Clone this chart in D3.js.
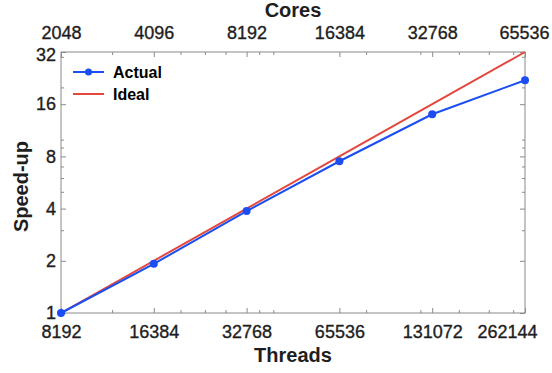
<!DOCTYPE html>
<html>
<head>
<meta charset="utf-8">
<script src="https://cdn.jsdelivr.net/npm/d3@7"></script>
<style>
  body { margin: 0; background: #fff; }
  svg { font-family: "Liberation Sans", Arial, Helvetica, sans-serif; }
</style>
</head>
<body>
<div id="chart"></div>
<script>
// data
const threads = [8192, 16384, 32768, 65536, 131072, 262144];
const cores = [2048, 4096, 8192, 16384, 32768, 65536];
const actual = [1, 1.92, 3.87, 7.5, 14.0, 22.0];
const ideal = [1, 2, 4, 8, 16, 32];
const yTicks = [1, 2, 4, 8, 16, 32];
const threadMinor = [12000, 20000, 24000, 28000, 36000, 40000, 80000, 120000, 160000, 200000, 240000];
const coreMinor = [3000, 5000, 6000, 7000, 9000, 10000, 20000, 30000, 40000, 50000, 60000];
const yMinor = [3, 5, 6, 7, 9, 10, 20, 30];

const W = 552, H = 373;
const margin = {left: 61, right: 27, top: 52, bottom: 60};
const innerW = W - margin.left - margin.right,
      innerH = H - margin.top - margin.bottom;

const axisColor = "#8a8a8a",
      labelColor = "#1e1e1e",
      blue = "#1a4ef2",
      red = "#e2483d";

const svg = d3.select("#chart").append("svg")
    .attr("width", W).attr("height", H);
const g = svg.append("g").attr("transform", `translate(${margin.left},${margin.top})`);

// scales
const x = d3.scaleLog().base(2).domain([8192, 262144]).range([0, innerW]);
const xTop = d3.scaleLog().base(2).domain([2048, 65536]).range([0, innerW]);
const y = d3.scaleLog().base(2).domain([1, 32]).range([innerH, 0]);

// draw one axis with major + minor ticks, ticks pointing inward
function drawAxis(axisFn, scale, major, minor, transform, showLabels) {
    const ax = g.append("g").attr("transform", transform);
    ax.call(axisFn(scale).tickValues(minor).tickSize(-3).tickFormat(""));
    ax.selectAll(".tick text").remove();
    ax.select(".domain").remove();
    const ax2 = g.append("g").attr("transform", transform)
        .call(axisFn(scale).tickValues(major).tickSize(-5).tickPadding(showLabels ? 11 : 0)
              .tickFormat(showLabels ? d3.format("d") : ""));
    ax2.select(".domain").remove();
    [ax, ax2].forEach(a => a.selectAll(".tick line").attr("stroke", axisColor));
    ax2.selectAll(".tick text")
        .attr("fill", labelColor)
        .attr("stroke", labelColor)
        .attr("stroke-width", 0.35)
        .style("font-size", "18px");
    return ax2;
}

const xb = drawAxis(d3.axisBottom, x, threads, threadMinor, `translate(0,${innerH})`, true);
xb.selectAll(".tick text").attr("y", 12);
// last label sits inside the window, as in the picture
xb.selectAll(".tick text").filter(d => d === 262144).attr("text-anchor", "end").attr("x", 12);

const xt = drawAxis(d3.axisTop, xTop, cores, coreMinor, "translate(0,0)", true);
xt.selectAll(".tick text").attr("y", -13);
xt.selectAll(".tick text").filter(d => d === 65536).attr("text-anchor", "end").attr("x", 24);

const yl = drawAxis(d3.axisLeft, y, yTicks, yMinor, "translate(0,0)", true);
yl.selectAll(".tick text").attr("x", -5);
yl.selectAll(".tick text").filter(d => d === 32).attr("dy", "0.45em");
drawAxis(d3.axisRight, y, yTicks, yMinor, `translate(${innerW},0)`, false);

// box
g.append("rect")
    .attr("width", innerW).attr("height", innerH)
    .attr("fill", "none").attr("stroke", axisColor).attr("stroke-width", 1);

// titles
svg.append("text")
    .attr("x", margin.left + innerW / 2).attr("y", 17)
    .attr("text-anchor", "middle")
    .style("font-size", "20px").style("font-weight", "bold").attr("fill", labelColor)
    .text("Cores");
svg.append("text")
    .attr("x", margin.left + innerW / 2).attr("y", 362)
    .attr("text-anchor", "middle")
    .style("font-size", "20px").style("font-weight", "bold").attr("fill", labelColor)
    .text("Threads");
svg.append("text")
    .attr("transform", `translate(28,${margin.top + innerH / 2 + 4}) rotate(-90)`)
    .attr("text-anchor", "middle")
    .style("font-size", "20px").style("font-weight", "bold").attr("fill", labelColor)
    .text("Speed-up");

// lines
const line = d3.line()
    .x(d => x(d[0]))
    .y(d => y(d[1]));

g.append("path")
    .datum(threads.map((t, i) => [t, ideal[i]]))
    .attr("d", line)
    .attr("fill", "none").attr("stroke", red).attr("stroke-width", 2);

const actualPts = threads.map((t, i) => [t, actual[i]]);
g.append("path")
    .datum(actualPts)
    .attr("d", line)
    .attr("fill", "none").attr("stroke", blue).attr("stroke-width", 2);

g.selectAll(".pt")
    .data(actualPts)
    .enter().append("circle")
    .attr("class", "pt")
    .attr("cx", d => x(d[0]))
    .attr("cy", d => y(d[1]))
    .attr("r", 4)
    .attr("fill", blue);

// legend
const legend = svg.append("g").attr("transform", "translate(73,72)");
const items = [{name: "Actual", color: blue, marker: true}, {name: "Ideal", color: red, marker: false}];
items.forEach((it, i) => {
    const row = legend.append("g").attr("transform", `translate(0,${i * 22})`);
    row.append("line").attr("x1", 0).attr("x2", 31).attr("y1", 0).attr("y2", 0)
        .attr("stroke", it.color).attr("stroke-width", 2);
    if (it.marker) row.append("circle").attr("cx", 15.5).attr("cy", 0).attr("r", 3.5).attr("fill", it.color);
    row.append("text").attr("x", 40).attr("y", 0).attr("dy", "0.36em")
        .style("font-size", "16px").style("font-weight", "bold").attr("fill", "#000")
        .text(it.name);
});
</script>
</body>
</html>
